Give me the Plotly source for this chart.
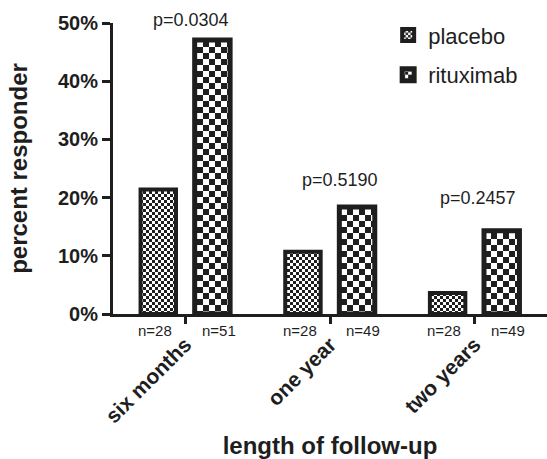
import plotly.graph_objects as go

categories = ["six months", "one year", "two years"]
placebo = [21.4, 10.7, 3.6]
rituximab = [47.1, 18.4, 14.3]
n_placebo = [28, 28, 28]
n_rituximab = [51, 49, 49]
p_values = ["0.0304", "0.5190", "0.2457"]
p_label_y = [50.0, 23.0, 19.9]

INK = "#1e1e1e"
FONT = "Arial, Liberation Sans, sans-serif"


def checker(cell):
    s = 2 * cell
    return (f"M0,0H{cell}V{cell}H0Z"
            f"M{cell},{cell}H{s}V{s}H{cell}Z"), s


fine_path, fine_size = checker(3)
coarse_path, coarse_size = checker(6)

fig = go.Figure()
fig.add_trace(go.Bar(
    x=categories, y=placebo, name="placebo", legendgroup="a",
    marker=dict(color="white", line=dict(color=INK, width=4),
                pattern=dict(path=fine_path, size=fine_size, fgcolor=INK,
                             bgcolor="white", fillmode="replace")),
))
fig.add_trace(go.Bar(
    x=categories, y=rituximab, name="rituximab", legendgroup="b",
    marker=dict(color="white", line=dict(color=INK, width=5),
                pattern=dict(path=coarse_path, size=coarse_size, fgcolor=INK,
                             bgcolor="white", fillmode="replace")),
))

annotations = []
p_xoff = [0.04, 0.07, 0.02]
for i, (p, py) in enumerate(zip(p_values, p_label_y)):
    annotations.append(dict(x=i + p_xoff[i], y=py, xref="x", yref="y",
                            text="p=" + p, showarrow=False, yanchor="middle",
                            yshift=3 if i == 0 else 0,
                            font=dict(family=FONT, size=18, color=INK)))
for i in range(len(categories)):
    annotations.append(dict(x=i - 0.21, y=0, xref="x", yref="y",
                            text=f"n={n_placebo[i]}", showarrow=False,
                            yanchor="middle", yshift=-16,
                            font=dict(family=FONT, size=15, color=INK)))
    annotations.append(dict(x=i + 0.23, y=0, xref="x", yref="y",
                            text=f"n={n_rituximab[i]}", showarrow=False,
                            yanchor="middle", yshift=-16,
                            font=dict(family=FONT, size=15, color=INK)))

fig.update_layout(
    width=547, height=459,
    margin=dict(l=113, r=0, t=23, b=145, autoexpand=False),
    paper_bgcolor="white", plot_bgcolor="white",
    barmode="group", bargap=0.252, bargroupgap=0.345,
    showlegend=True,
    legend=dict(x=0.634, y=1.03, xanchor="left", yanchor="top",
                font=dict(family=FONT, size=22, color=INK),
                traceorder="grouped", tracegroupgap=8,
                bgcolor="rgba(0,0,0,0)"),
    annotations=annotations,
    font=dict(family=FONT, color=INK),
)
fig.update_xaxes(
    type="category", range=[-0.5, 2.5],
    showline=True, linecolor=INK, linewidth=3,
    ticks="outside", ticklen=7, tickwidth=2.5, tickcolor=INK,
    tickangle=-45,
    tickfont=dict(family=FONT, size=21, color=INK, weight="bold"),
    showgrid=False, zeroline=False,
    title=dict(text="length of follow-up", standoff=21,
               font=dict(family=FONT, size=24, color=INK, weight="bold")),
)
fig.update_yaxes(
    range=[0, 50], dtick=10, ticksuffix="%",
    showline=True, linecolor=INK, linewidth=3,
    ticks="outside", ticklen=8, tickwidth=2.5, tickcolor=INK,
    tickfont=dict(family=FONT, size=20, color=INK, weight="bold"),
    showgrid=False, zeroline=False,
    title=dict(text="percent responder", standoff=24,
               font=dict(family=FONT, size=24, color=INK, weight="bold")),
)

fig.write_html("out.html", config={"displayModeBar": False},
               post_script="document.body.style.margin='0';")
